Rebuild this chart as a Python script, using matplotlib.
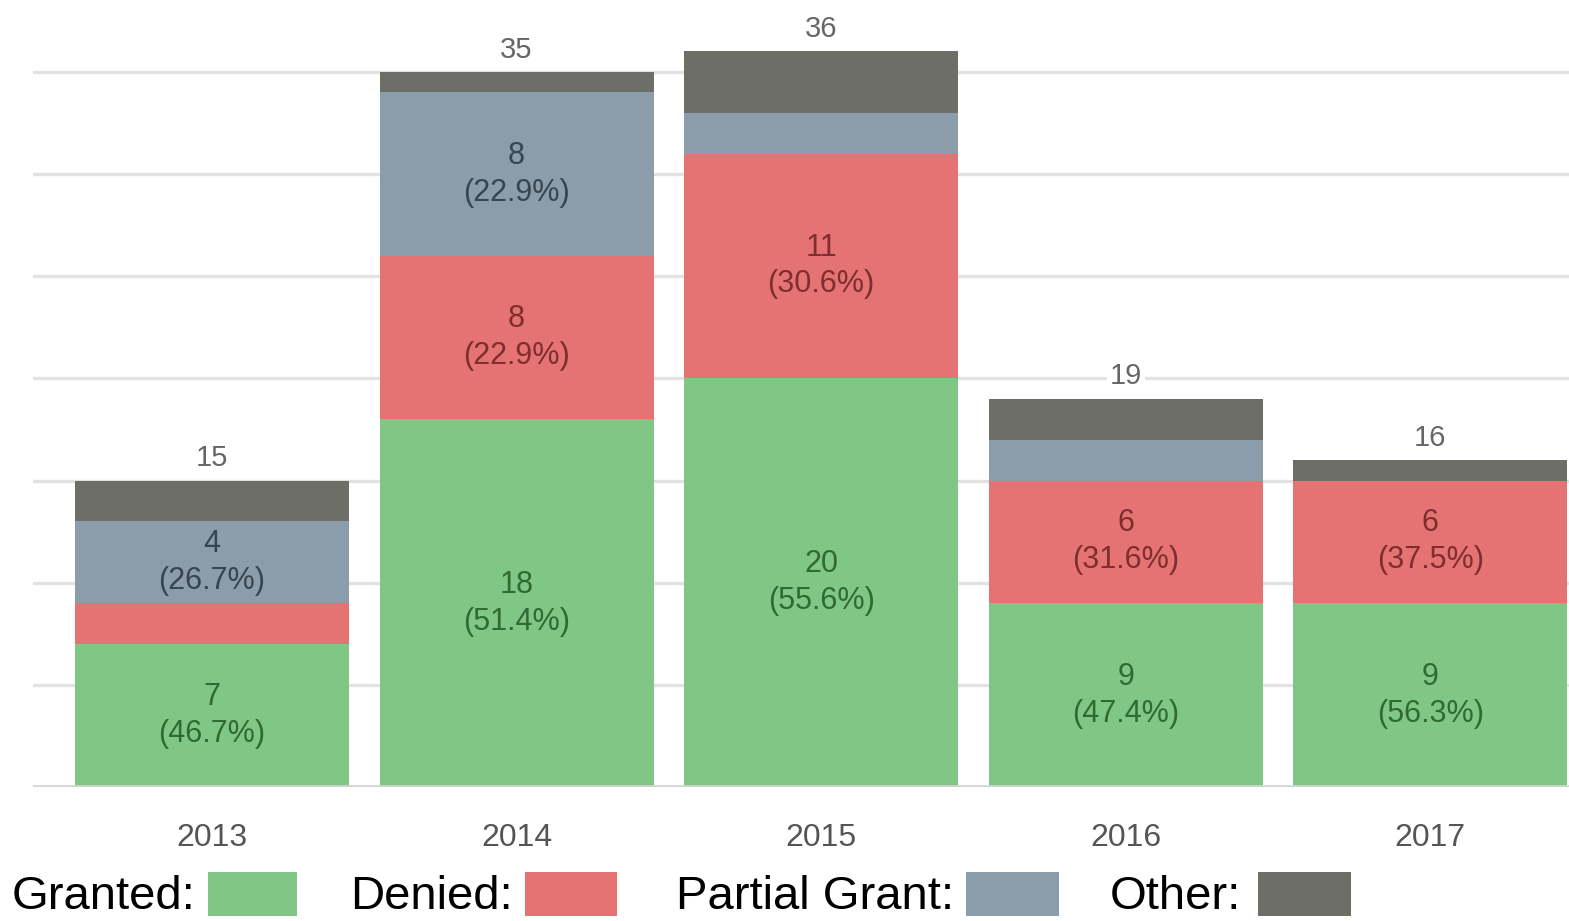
import math
import matplotlib
matplotlib.use("Agg")
import matplotlib.pyplot as plt
from matplotlib.patches import Rectangle

plt.rcParams['font.family'] = ['Liberation Sans', 'DejaVu Sans']

years = ['2013', '2014', '2015', '2016', '2017']
granted = [7, 18, 20, 9, 9]
denied = [2, 8, 11, 6, 6]
partial = [4, 8, 2, 2, 0]
other = [2, 1, 3, 2, 1]

series_names = ['Granted', 'Denied', 'Partial Grant', 'Other']
series_values = [granted, denied, partial, other]
fill_colors = ['#80C684', '#E57373', '#8B9DAB', '#6D6E66']
text_colors = ['#2F6A33', '#7E2E2E', '#38444E', None]
label_threshold = 4

W, H = 1569, 921
fig = plt.figure(figsize=(W / 100, H / 100), dpi=100)
fig.patch.set_facecolor('white')

ax = fig.add_axes([33 / W, (H - 787) / H, 1 - 33 / W, 787 / H])
ax.set_xlim(-0.588, 4.456)
ax.set_ylim(0, 38.52)

x = list(range(len(years)))
totals = [sum(v) for v in zip(*series_values)]
bottoms = [0] * len(years)
bar_width = 0.90

for vals, fc, tc in zip(series_values, fill_colors, text_colors):
    ax.bar(x, vals, width=bar_width, bottom=bottoms, color=fc, zorder=2,
           linewidth=0)
    if tc is not None:
        for i, v in enumerate(vals):
            if v >= label_threshold:
                pct = math.floor(v / totals[i] * 1000 + 0.5) / 10
                ax.text(x[i], bottoms[i] + v / 2, f"{v}\n({pct:.1f}%)",
                        ha='center', va='center', fontsize=22, color=tc,
                        linespacing=1.3, zorder=3)
    bottoms = [b + v for b, v in zip(bottoms, vals)]

for i, t in enumerate(totals):
    ax.annotate(str(t), (x[i], t), xytext=(0, 6), textcoords='offset points',
                ha='center', va='bottom', fontsize=21, color='#666666',
                zorder=4,
                bbox=dict(boxstyle='square,pad=0.1', fc='white', ec='none'))

# horizontal grid
for yv in range(5, 40, 5):
    ax.axhline(yv, color='#E2E2E2', linewidth=2.4, zorder=1)
ax.axhline(0, color='#D4D4D4', linewidth=2.6, zorder=3)

ax.set_xticks(x)
ax.set_xticklabels(years, fontsize=23, color='#555555')
ax.tick_params(axis='x', length=0, pad=26)
ax.set_yticks([])
for s in ax.spines.values():
    s.set_visible(False)

# legend row along the bottom
legend_items = [
    ('Granted:', 12, 208, 297),
    ('Denied:', 350, 525, 617),
    ('Partial Grant:', 676, 966, 1059),
    ('Other:', 1110, 1258, 1351),
]
for (label, tx, bx0, bx1), fc in zip(legend_items, fill_colors):
    fig.text(tx / W, (H - 897) / H, label, ha='left', va='center',
             fontsize=34, color='black')
    fig.patches.append(Rectangle((bx0 / W, (H - 916) / H), (bx1 - bx0) / W,
                                 44 / H, transform=fig.transFigure,
                                 facecolor=fc, edgecolor='none'))

fig.savefig('out.png', dpi=100, facecolor='white')
